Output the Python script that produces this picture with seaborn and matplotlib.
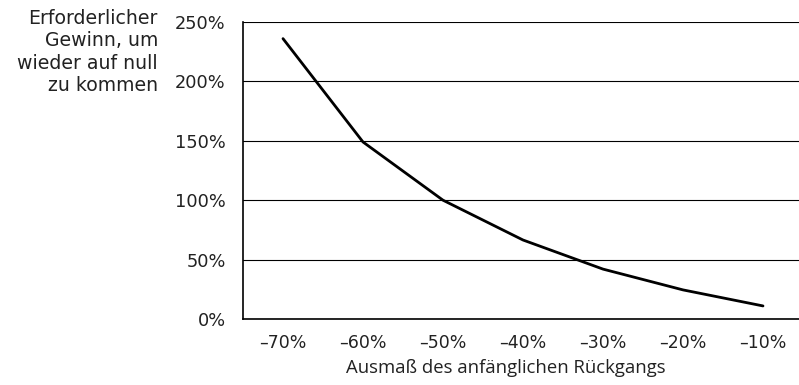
import matplotlib
matplotlib.use("Agg")
import matplotlib.pyplot as plt
import seaborn as sns
import pandas as pd

# Werte
rueckgang = ["–70%", "–60%", "–50%", "–40%", "–30%", "–20%", "–10%"]
gewinn = [236, 149, 100, 66.5, 42, 24.5, 11]
y_ticks = [0, 50, 100, 150, 200, 250]

df = pd.DataFrame({"rueckgang": rueckgang, "gewinn": gewinn})

sns.set_style("white")
plt.rcParams["font.family"] = ["DejaVu Sans"]

fig = plt.figure(figsize=(7.99, 3.85), dpi=100)
ax = fig.add_axes([243 / 799, 1 - 319 / 385, 1 - 243 / 799 + 0.005, (319 - 22) / 385])

sns.lineplot(data=df, x="rueckgang", y="gewinn", color="black", linewidth=2, ax=ax)

ax.set_ylim(0, 250)
ax.set_xlim(-0.5, 6.5)
ax.set_yticks(y_ticks)
ax.set_yticklabels([f"{v}%" for v in y_ticks], fontsize=12.8, color="#222222")
ax.yaxis.grid(True, color="black", linewidth=0.8)
ax.set_axisbelow(True)

# Striche an den Kategoriegrenzen, Beschriftung in der Mitte
n = len(rueckgang)
ax.set_xticks([i - 0.5 for i in range(n + 1)])
ax.set_xticklabels([""] * (n + 1))
ax.set_xticks(range(n), minor=True)
ax.set_xticklabels(rueckgang, minor=True, fontsize=12.5, color="#222222")
ax.tick_params(axis="x", which="major", length=7, width=1, color="black", direction="out")
ax.tick_params(axis="x", which="minor", length=0, pad=11)
ax.tick_params(axis="y", length=7, width=1, color="black", direction="out", pad=5.5)

for s in ["top", "right"]:
    ax.spines[s].set_visible(False)
for s in ["left", "bottom"]:
    ax.spines[s].set_color("black")
    ax.spines[s].set_linewidth(1.2)

ax.set_xlabel("")
ax.set_ylabel("")
fig.text(506 / 799, 1 - 368 / 385, "Ausmaß des anfänglichen Rückgangs",
         ha="center", va="center", fontsize=13.3, color="#222222",
         family=["Open Sans", "DejaVu Sans"])
fig.text(158 / 799, 1 - 9 / 385, "Erforderlicher\nGewinn, um\nwieder auf null\nzu kommen",
         ha="right", va="top", fontsize=13.6, linespacing=1.22, color="#222222")

fig.savefig("out.png", dpi=100)
